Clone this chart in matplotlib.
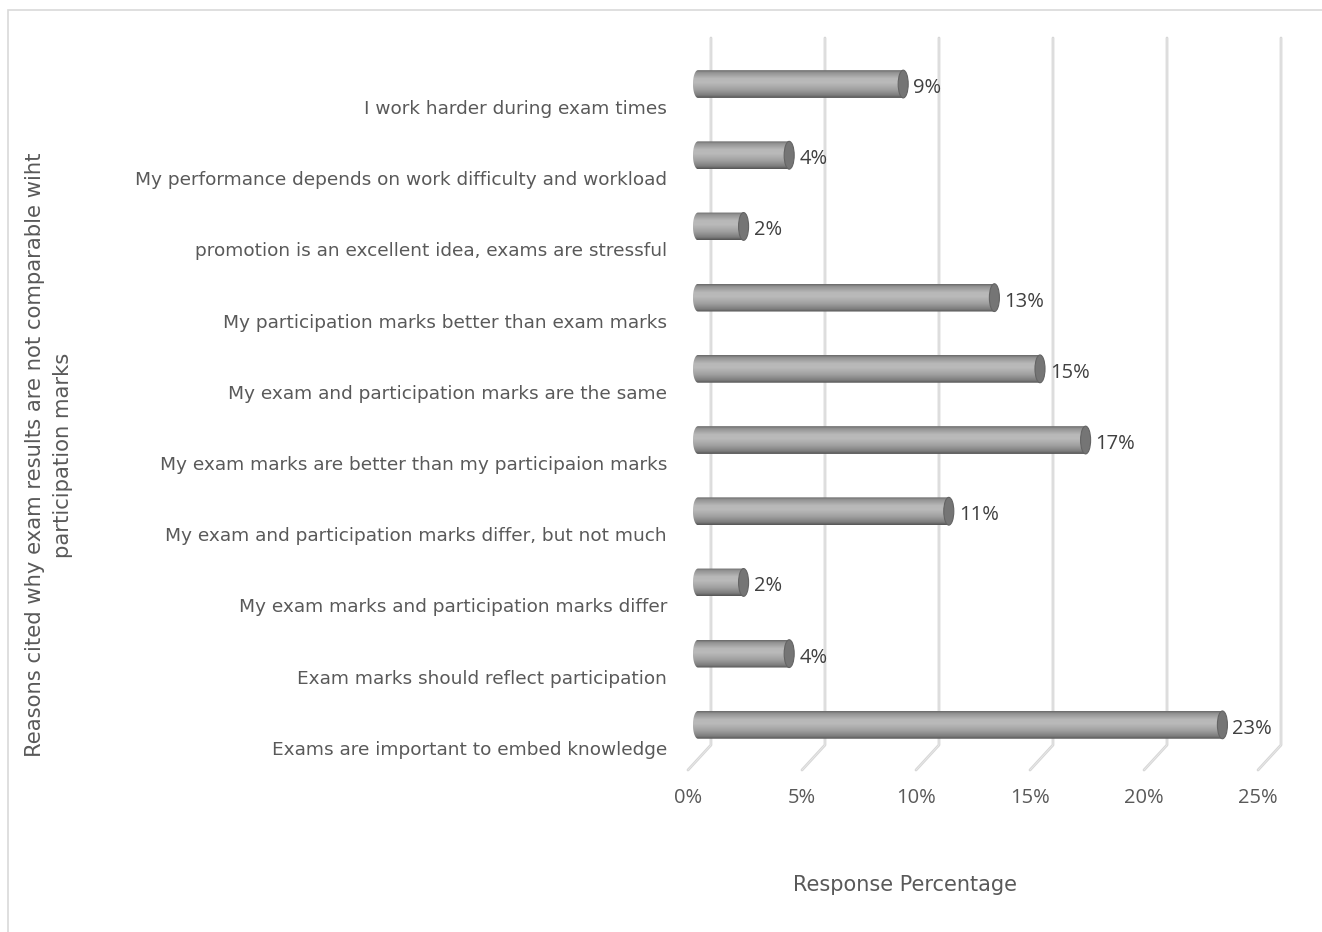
import numpy as np
import matplotlib
matplotlib.use("Agg")
import matplotlib.pyplot as plt
from matplotlib.patches import Polygon, Ellipse, Rectangle
from matplotlib.transforms import ScaledTranslation
from matplotlib.colors import LinearSegmentedColormap

# reasons, listed bottom to top as the chart stacks them
reasons = [
    "Exams are important to embed knowledge",
    "Exam marks should reflect participation",
    "My exam marks and participation marks differ",
    "My exam and participation marks differ, but not much",
    "My exam marks are better than my participaion marks",
    "My exam and participation marks are the same",
    "My participation marks better than exam marks",
    "promotion is an excellent idea, exams are stressful",
    "My performance depends on work difficulty and workload",
    "I work harder during exam times",
]
pct = [23, 4, 2, 11, 17, 15, 13, 2, 4, 9]
ticks = [0, 5, 10, 15, 20, 25]

TXT = "#595959"
GRID = "#d6d6d6"
BAR_H = 0.39      # bar thickness in category units
CAP = 0.22        # half width of the cylinder end caps, in % units

fig = plt.figure(figsize=(13.22, 9.32), dpi=100)
ax = fig.add_axes([0.5204, 0.1738, 0.4312, 0.7586])
ax.set_xlim(0, 25)
ax.set_ylim(-0.48, 9.45)
ax.axis("off")

def shift(dx, dy):
    return ax.transData + ScaledTranslation(dx / 100, dy / 100, fig.dpi_scale_trans)

back = shift(23, 25)     # back wall
mid = shift(10, 11)      # plane the cylinders sit in
y0, y1 = ax.get_ylim()

# 3-D style gridlines: floor diagonal + vertical on the back wall
for t in ticks:
    p_front = ax.transData.transform((t, y0))
    p_back = back.transform((t, y0))
    p_top = back.transform((t, y1))
    xs = [p_front[0], p_back[0], p_top[0]]
    ys = [p_front[1], p_back[1], p_top[1]]
    fig.add_artist(plt.Line2D(xs, ys, transform=None, color=GRID, lw=2.0,
                              solid_capstyle="round", solid_joinstyle="round", zorder=-2))
    fig.add_artist(plt.Line2D(xs, ys, transform=None, color="#ececec", lw=0.5,
                              solid_capstyle="round", solid_joinstyle="round", zorder=-1))
    ax.text(t, y0, f"{t}%", ha="center", va="top", fontsize=14.5, color=TXT,
            family="Open Sans",
            transform=ax.transData + ScaledTranslation(0, -0.18, fig.dpi_scale_trans))

# cylinder shading, top to bottom
shade = LinearSegmentedColormap.from_list("cyl", [
    (0.0, "#6a6a6a"), (0.08, "#929292"), (0.3, "#b8b8b8"), (0.45, "#bababa"),
    (0.7, "#a0a0a0"), (0.9, "#7e7e7e"), (1.0, "#555555")])
grad = np.linspace(0, 1, 64).reshape(-1, 1)

for i, v in enumerate(pct):
    th = np.linspace(np.pi / 2, 3 * np.pi / 2, 30)
    left = np.column_stack([CAP * np.cos(th), i + BAR_H / 2 * np.sin(th)])
    outline = np.vstack([left, [[v, i - BAR_H / 2], [v, i + BAR_H / 2]]])
    clip = Polygon(outline, closed=True, transform=mid)
    im = ax.imshow(grad, cmap=shade, aspect="auto", interpolation="bilinear",
                   extent=(-CAP, v, i - BAR_H / 2, i + BAR_H / 2), transform=mid,
                   zorder=3, vmin=0, vmax=1)
    im.set_clip_path(clip)
    ax.add_patch(Ellipse((v, i), 2 * CAP, BAR_H, transform=mid, facecolor="#757575",
                         edgecolor="#646464", lw=0.8, zorder=4))
    ax.text(v, i, f"{v}%", ha="left", va="center", fontsize=14.5, color="#404040",
            family="Open Sans",
            transform=mid + ScaledTranslation(0.10, -0.04, fig.dpi_scale_trans), zorder=5)
    ax.text(0, i, reasons[i], ha="right", va="center", fontsize=13.3, color=TXT,
            transform=ax.transData + ScaledTranslation(-0.21, -0.14, fig.dpi_scale_trans))

ax.set_xlim(0, 25)
ax.set_ylim(y0, y1)

fig.text(905 / 1322, 1 - 885 / 932, "Response Percentage", ha="center", va="center",
         fontsize=15, color=TXT)
fig.text(49 / 1322, 1 - 455 / 932,
         "Reasons cited why exam results are not comparable wiht\nparticipation marks",
         ha="center", va="center", rotation=90, fontsize=15.2, color=TXT,
         multialignment="center", linespacing=1.55)

# chart area border
fig.add_artist(Rectangle((8 / 1322, -0.1), 1.2, 1.1 - 10 / 932, transform=fig.transFigure,
                         fill=False, edgecolor="#d9d9d9", lw=1.2))

fig.savefig("out.png", dpi=100)
